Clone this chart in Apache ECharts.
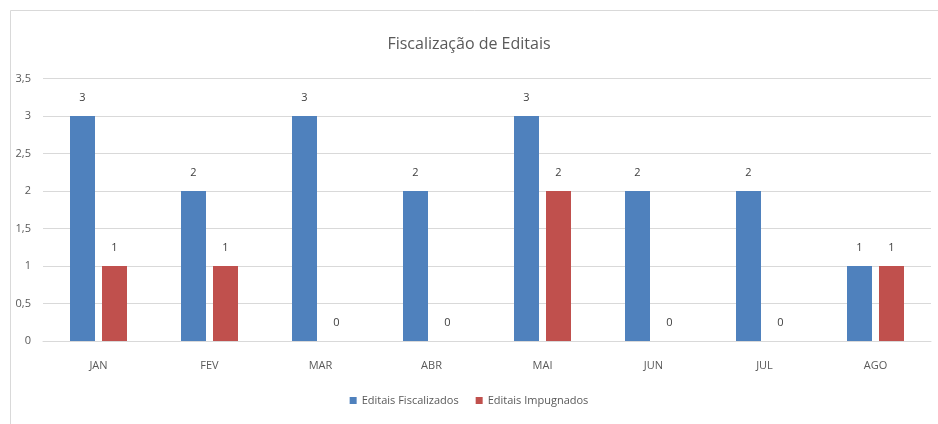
<!DOCTYPE html>
<html>
<head>
<meta charset="utf-8">
<script src="https://cdn.jsdelivr.net/npm/echarts@6/dist/echarts.min.js"></script>
<style>
  html, body { margin: 0; padding: 0; background: #fff; }
  #main { width: 938px; height: 424px; }
</style>
</head>
<body>
<div id="main"></div>
<script>
// dados do gráfico
var meses = ['JAN', 'FEV', 'MAR', 'ABR', 'MAI', 'JUN', 'JUL', 'AGO'];
var fiscalizados = [3, 2, 3, 2, 3, 2, 2, 1];
var impugnados = [1, 1, 0, 0, 2, 0, 0, 1];
var ticksY = [0, 0.5, 1, 1.5, 2, 2.5, 3, 3.5];

var fonte = '"Open Sans", sans-serif';
var myChart = echarts.init(document.getElementById('main'));

var option = {
    backgroundColor: '#fff',
    textStyle: { fontFamily: fonte },
    title: {
        text: 'Fiscalização de Editais',
        left: 'center',
        top: 31,
        textStyle: { fontFamily: fonte, fontSize: 16, fontWeight: 'normal', color: '#595959' }
    },
    graphic: [{
        type: 'rect',
        shape: { x: 10.5, y: 10.5, width: 940, height: 430 },
        style: { fill: 'none', stroke: '#d9d9d9', lineWidth: 1 },
        silent: true
    }],
    legend: {
        bottom: 13,
        left: 'center',
        itemWidth: 7,
        itemHeight: 7,
        itemGap: 17,
        icon: 'rect',
        textStyle: { fontFamily: fonte, fontSize: 11, color: '#595959' },
        data: ['Editais Fiscalizados', 'Editais Impugnados']
    },
    grid: { left: 43, right: 7, top: 78.5, bottom: 83 },
    xAxis: {
        type: 'category',
        data: meses,
        axisTick: { show: false },
        axisLine: { lineStyle: { color: '#d9d9d9' } },
        axisLabel: { color: '#595959', fontSize: 11, margin: 19, fontFamily: fonte }
    },
    yAxis: {
        type: 'value',
        min: ticksY[0],
        max: ticksY[ticksY.length - 1],
        interval: 0.5,
        axisLine: { show: false },
        axisTick: { show: false },
        splitLine: { lineStyle: { color: '#d9d9d9' } },
        axisLabel: {
            color: '#595959', fontSize: 11, margin: 12, fontFamily: fonte,
            formatter: function (v) { return String(v).replace('.', ','); }
        }
    },
    series: [
        {
            name: 'Editais Fiscalizados',
            type: 'bar',
            data: fiscalizados,
            barWidth: 25,
            barGap: '28%',
            itemStyle: { color: '#4f81bd' },
            label: { show: true, position: 'top', distance: 13, color: '#404040', fontSize: 11, fontFamily: fonte }
        },
        {
            name: 'Editais Impugnados',
            type: 'bar',
            data: impugnados,
            barWidth: 25,
            itemStyle: { color: '#c0504d' },
            label: { show: true, position: 'top', distance: 13, color: '#404040', fontSize: 11, fontFamily: fonte }
        }
    ]
};

myChart.setOption(option);
</script>
</body>
</html>
